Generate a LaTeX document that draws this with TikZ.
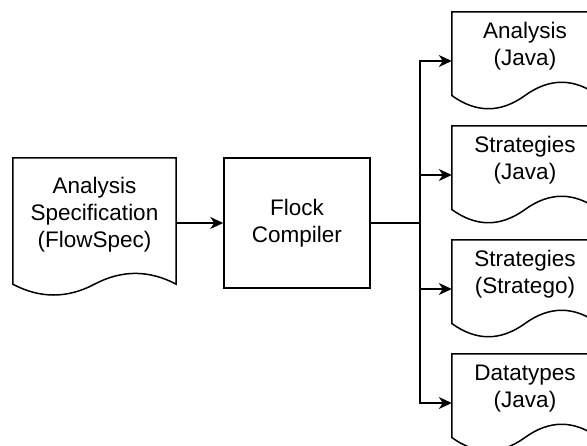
\documentclass[tikz,border=0pt]{standalone}
\usepackage{fontspec}
\setmainfont{Liberation Sans}
\usetikzlibrary{calc,arrows.meta}

\newcommand\lblfont{\fontsize{22.5}{27}\selectfont}

% Document outline around a label node: flat top, straight sides and a
% wavy bottom hanging #2 below the node's south edge.
\newcommand\docoutline[2]{%
  \draw[outline]
    (#1.north west) -- (#1.north east)
    -- ($(#1.south east)+(0,#2/2)$)
    .. controls ($(#1.south east)!1/3!(#1.south)+(0,-0.1*#2)$)
       and ($(#1.south east)!2/3!(#1.south)+(0,-0.1*#2)$)
    .. ($(#1.south)+(0,#2/2)$)
    .. controls ($(#1.south)!1/3!(#1.south west)+(0,1.1*#2)$)
       and ($(#1.south)!2/3!(#1.south west)+(0,1.1*#2)$)
    .. ($(#1.south west)+(0,#2/2)$)
    -- cycle;%
}

\begin{document}
\begin{tikzpicture}[x=1pt,y=-1pt,
  outline/.style={draw=black, line width=1.5pt, line join=miter},
  conn/.style={draw=black, line width=1.5pt},
  arrow/.style={conn, -{Stealth[length=13pt,width=12pt,inset=4pt]}},
  label/.style={inner sep=0pt, align=center, font=\lblfont},
  procbox/.style={label, outline, minimum width=146pt, minimum height=130pt},
  inputdoc/.style={label, minimum width=163pt, minimum height=114pt},
  outdoc/.style={label, minimum width=146pt, minimum height=68.6pt}]

\useasboundingbox (0,0) rectangle (587,445);
\clip (0,0) rectangle (587,445);

% source document and compiler
\node[inputdoc] (spec) at (94.5,215) {Analysis\\Specification\\(FlowSpec)};
\docoutline{spec}{24}
\node[procbox] (flock) at (297,223) {Flock\\Compiler};

% generated documents
\node[outdoc] (o1) at (525,46.3)  {Analysis\\(Java)};
\node[outdoc] (o2) at (525,160.3) {Strategies\\(Java)};
\node[outdoc] (o3) at (525,274.3) {Strategies\\(Stratego)};
\node[outdoc] (o4) at (525,388.3) {Datatypes\\(Java)};
\foreach \d in {o1,o2,o3,o4} {
  \docoutline{\d}{29.4}
  \coordinate (\d in) at ($(\d.west)+(0,14.7)$);
}

% connectors
\draw[arrow] (spec.east |- flock.west) -- (flock.west);
\coordinate (bus) at ($(flock.east)+(49,0)$);
\draw[conn] (flock.east) -- (bus);
\foreach \d in {o1,o2,o3,o4}
  \draw[arrow] (bus) |- (\d in);
\end{tikzpicture}
\end{document}
